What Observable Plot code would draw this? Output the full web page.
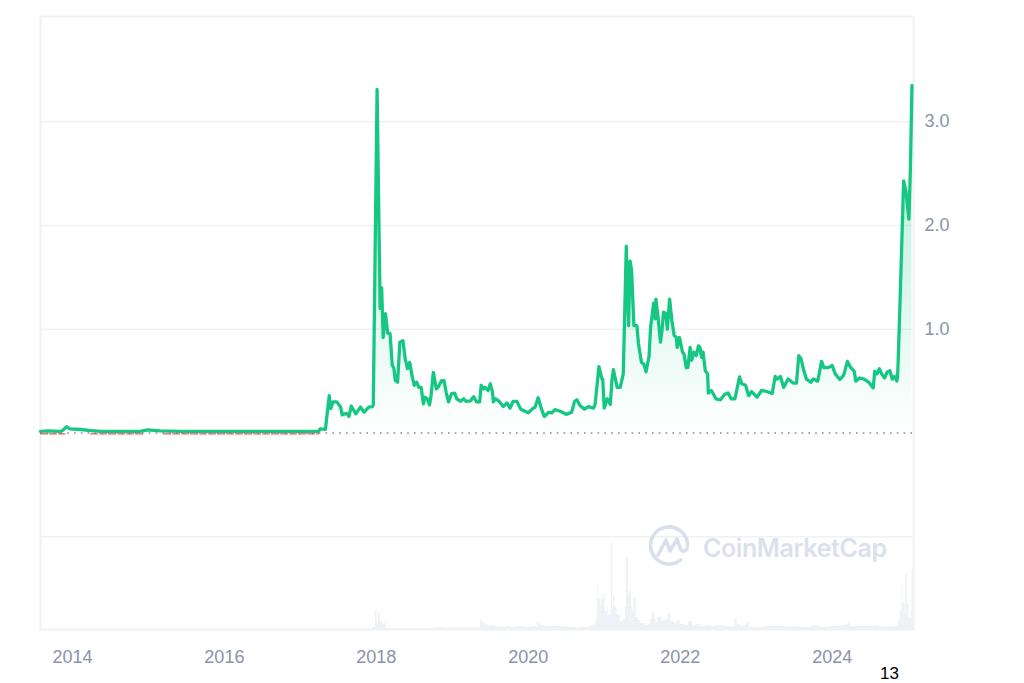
<!DOCTYPE html>
<html><head><meta charset="utf-8">
<script src="https://cdn.jsdelivr.net/npm/d3@7"></script>
<script src="https://cdn.jsdelivr.net/npm/@observablehq/plot@0.6"></script>
<style>
html,body{margin:0;padding:0;background:#fff;overflow:hidden}
#c{position:relative;width:1024px;height:683px;overflow:hidden}
#c>svg,#c>div{position:absolute;left:0;top:0}
svg{background:transparent!important}
</style></head><body><div id="c"></div>
<script>
const priceYears=[2013.58,2013.68,2013.84,2013.88,2013.92,2013.97,2014.11,2014.24,2014.37,2014.89,2014.99,2015.16,2015.42,2016.21,2017.24,2017.26,2017.33,2017.38,2017.40,2017.43,2017.48,2017.53,2017.55,2017.61,2017.64,2017.67,2017.73,2017.79,2017.84,2017.90,2017.95,2017.96,2018.01,2018.05,2018.07,2018.09,2018.12,2018.15,2018.18,2018.21,2018.23,2018.25,2018.28,2018.31,2018.35,2018.38,2018.41,2018.44,2018.47,2018.50,2018.53,2018.56,2018.59,2018.62,2018.64,2018.67,2018.70,2018.72,2018.75,2018.79,2018.82,2018.86,2018.89,2018.92,2018.95,2018.99,2019.03,2019.06,2019.11,2019.15,2019.18,2019.24,2019.28,2019.32,2019.36,2019.38,2019.41,2019.43,2019.47,2019.50,2019.53,2019.54,2019.57,2019.61,2019.67,2019.72,2019.76,2019.80,2019.85,2019.90,2020.00,2020.05,2020.09,2020.13,2020.17,2020.21,2020.27,2020.31,2020.35,2020.42,2020.50,2020.57,2020.61,2020.64,2020.68,2020.74,2020.79,2020.86,2020.88,2020.93,2020.97,2020.98,2021.00,2021.04,2021.08,2021.10,2021.12,2021.17,2021.21,2021.25,2021.29,2021.32,2021.34,2021.36,2021.39,2021.43,2021.45,2021.49,2021.52,2021.55,2021.59,2021.61,2021.65,2021.67,2021.68,2021.71,2021.74,2021.76,2021.78,2021.81,2021.83,2021.86,2021.89,2021.92,2021.95,2021.96,2021.99,2022.03,2022.05,2022.08,2022.10,2022.13,2022.15,2022.18,2022.21,2022.24,2022.26,2022.28,2022.30,2022.33,2022.36,2022.37,2022.41,2022.47,2022.53,2022.58,2022.63,2022.67,2022.72,2022.78,2022.81,2022.86,2022.90,2022.94,2023.01,2023.07,2023.14,2023.21,2023.25,2023.28,2023.32,2023.36,2023.42,2023.49,2023.53,2023.56,2023.59,2023.62,2023.66,2023.72,2023.75,2023.81,2023.86,2023.89,2023.95,2024.00,2024.04,2024.10,2024.15,2024.20,2024.24,2024.29,2024.31,2024.36,2024.42,2024.48,2024.54,2024.56,2024.59,2024.62,2024.65,2024.69,2024.72,2024.76,2024.79,2024.82,2024.85,2024.86,2024.87,2024.90,2024.94,2024.97,2025.01,2025.03,2025.05];
const prices=[.015,.02,.015,.03,.06,.04,.034,.024,.015,.015,.03,.02,.015,.015,.015,.04,.035,.36,.235,.30,.30,.25,.175,.19,.16,.26,.185,.25,.20,.25,.255,.27,3.31,1.20,1.40,.92,1.15,.96,.96,.65,.63,.506,.49,.875,.89,.715,.62,.68,.55,.46,.49,.44,.44,.28,.345,.33,.27,.36,.585,.425,.45,.505,.505,.39,.30,.38,.385,.33,.305,.33,.305,.31,.35,.30,.30,.46,.425,.44,.41,.475,.39,.30,.33,.31,.255,.29,.24,.305,.305,.23,.195,.23,.25,.34,.24,.16,.20,.195,.225,.21,.18,.20,.305,.32,.265,.23,.255,.24,.28,.64,.52,.52,.24,.33,.275,.50,.61,.44,.44,.57,1.80,1.035,1.655,1.565,1.035,1.035,.86,.68,.665,.59,.745,1.02,1.25,1.10,1.29,1.10,.875,.99,1.165,1.15,1.00,1.29,1.085,.94,.92,.825,.92,.78,.76,.63,.63,.825,.70,.78,.745,.84,.825,.73,.78,.60,.57,.385,.41,.33,.32,.37,.385,.33,.33,.54,.475,.46,.36,.40,.345,.41,.40,.38,.545,.52,.545,.44,.52,.48,.48,.745,.715,.62,.52,.49,.52,.50,.69,.63,.63,.65,.57,.515,.555,.69,.635,.595,.50,.53,.52,.49,.435,.595,.57,.62,.57,.53,.585,.60,.52,.545,.50,.54,.73,1.44,2.43,2.335,2.06,2.575,3.35];
const belowYears=[2013.58,2013.90,NaN,2014.24,2014.93,NaN,2015.20,2017.24];
const volumeYears=[2013.58,2017.90,2017.95,2017.99,2018.01,2018.03,2018.05,2018.08,2018.11,2018.12,2018.13,2018.14,2018.71,2018.78,2018.91,2018.97,2019.24,2019.30,2019.36,2019.37,2019.39,2019.43,2019.47,2019.50,2019.57,2019.63,2019.70,2019.76,2019.83,2019.89,2019.96,2020.03,2020.12,2020.16,2020.22,2020.29,2020.36,2020.42,2020.49,2020.55,2020.62,2020.68,2020.75,2020.82,2020.86,2020.89,2020.91,2020.92,2020.95,2020.96,2020.97,2020.99,2021.01,2021.04,2021.05,2021.08,2021.09,2021.11,2021.12,2021.14,2021.17,2021.21,2021.25,2021.28,2021.29,2021.32,2021.34,2021.36,2021.38,2021.39,2021.42,2021.45,2021.47,2021.54,2021.58,2021.61,2021.63,2021.66,2021.68,2021.71,2021.74,2021.76,2021.80,2021.84,2021.87,2021.89,2021.93,2021.96,2022.00,2022.07,2022.11,2022.16,2022.20,2022.26,2022.33,2022.39,2022.46,2022.59,2022.66,2022.72,2022.75,2022.79,2022.86,2022.88,2022.91,2022.99,2023.12,2023.25,2023.38,2023.51,2023.58,2023.71,2023.84,2023.97,2024.11,2024.20,2024.24,2024.37,2024.50,2024.57,2024.63,2024.76,2024.83,2024.87,2024.89,2024.92,2024.93,2024.96,2024.97,2024.99,2025.01,2025.04,2025.05,2025.07];
const volumes=[.3,.5,2,19,6,17,8,5,6,11,1,.8,1,1.5,1,1.5,1.5,2,1.5,10,7,5,3,4,2.5,2,3,2,3,3,2,3,6,4,3,3,3,3,2.5,2,1.5,2,2,4,5,10,46,30,22,36,30,35,18,23,14,16,86,20,34,22,14,8,10,22,72,36,39,22,16,32,12,9,6,4,5,10,17,10,7,12,14,8,10,16,9,8,6,9,5,4,8,4,5,3,4,3,4,3,2.5,11,5,3,4,7,2.5,2,3,3,2.5,3,2,3.5,2,3,4,6,3,3,3,4,2.5,3,3,8,18,46,26,15,56,25,12,20,59,40];
const priceTicks=[1,2,3];
const yearTicks=[2014,2016,2018,2020,2022,2024];

const priceRows=priceYears.map((year,i)=>({year,price:prices[i]}));
const belowRows=belowYears.map(year=>({year,price:Number.isNaN(year)?NaN:-0.008}));
const volumeRows=volumeYears.map((year,i)=>({year,volume:volumes[i]}));
const GRID="#eff2f5",TEXT="#8a93a8",GREEN="#16c784",RED="#ea3943",FONT="'Liberation Sans',Arial,sans-serif";
const xDomain=[2013.58,2025.07];
const margins={width:1024,height:683,marginLeft:40,marginRight:111,marginBottom:54};

function gradient(){
  const d=d3.create("svg:defs");
  const g=d.append("linearGradient").attr("id","fade").attr("x1",0).attr("x2",0).attr("y1",0).attr("y2",1);
  g.append("stop").attr("offset",0).attr("stop-color",GREEN).attr("stop-opacity",.36);
  g.append("stop").attr("offset",1).attr("stop-color",GREEN).attr("stop-opacity",0);
  return d.node();
}

const volumePlot=Plot.plot({...margins,marginTop:537,style:{fontFamily:FONT,background:"transparent"},
  x:{domain:xDomain,axis:null},
  y:{domain:[0,92],axis:null},
  marks:[
    Plot.areaY(volumeRows,{x:"year",y:"volume",fill:"#eef1f5",curve:"step-after"}),
    Plot.axisX({anchor:"bottom",ticks:yearTicks,tickFormat:d3.format("d"),tickSize:0,tickPadding:21,fontSize:18,color:TEXT,label:null})
  ]});

const pricePlot=Plot.plot({...margins,marginTop:16,style:{fontFamily:FONT,background:"transparent"},
  x:{domain:xDomain,axis:null},
  y:{domain:[-1.893,4.013],axis:null},
  marks:[
    gradient,
    Plot.gridY(priceTicks,{stroke:GRID,strokeOpacity:1,strokeWidth:1.5}),
    Plot.ruleY([-1.0],{stroke:GRID,strokeWidth:1.5}),
    Plot.frame({stroke:GRID,strokeWidth:2}),
    Plot.axisY({anchor:"right",ticks:priceTicks,tickFormat:d3.format(".1f"),tickSize:0,tickPadding:11,fontSize:18,color:TEXT,label:null}),
    Plot.areaY(priceRows,{x:"year",y:"price",fill:"url(#fade)"}),
    Plot.ruleY([0],{stroke:"#808a9d",strokeWidth:1.4,strokeDasharray:"1.6,5.2"}),
    Plot.lineY(belowRows,{x:"year",y:"price",stroke:RED,strokeWidth:1.2,strokeOpacity:.85,strokeDasharray:"7,2"}),
    Plot.lineY(priceRows,{x:"year",y:"price",stroke:GREEN,strokeWidth:3.3,strokeLinejoin:"round"})
  ]});

const c=document.getElementById("c");
c.append(volumePlot,pricePlot);

const overlay=document.createElement("div");
overlay.innerHTML=`<svg width="1024" height="683" style="position:absolute;left:0;top:0">
  <g fill="none" stroke="#d9dfeb" stroke-width="3.6" stroke-linecap="round" stroke-linejoin="round">
    <path d="M680.6 559.8 A18.5 18.5 0 1 1 687.5 546"/>
    <path d="M658 555 L666 540 L670 551 L677 539 L681 550 Q683 553 687 549"/>
  </g>
  <text x="703" y="557" font-family="Inter,'Open Sans',sans-serif" font-weight="600" font-size="25" fill="#dbe1ec" textLength="184">CoinMarketCap</text>
  <text x="880" y="679" font-family="${FONT}" font-size="17" fill="#000">13</text>
</svg>`;
c.append(overlay);
</script></body></html>
